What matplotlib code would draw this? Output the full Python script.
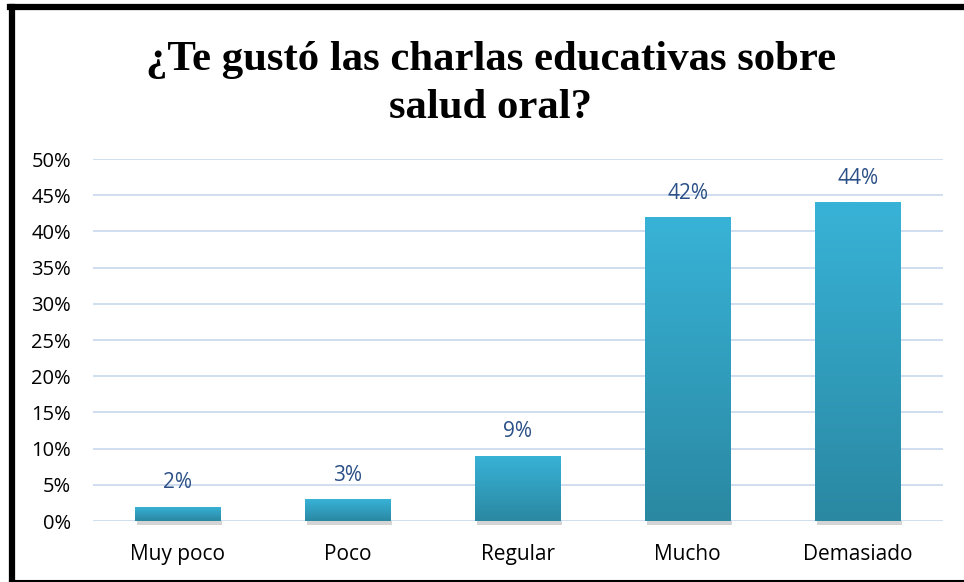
import matplotlib.pyplot as plt
import numpy as np
from matplotlib.lines import Line2D
from matplotlib.colors import LinearSegmentedColormap
from matplotlib.patches import Rectangle

# data
categories = ["Muy poco", "Poco", "Regular", "Mucho", "Demasiado"]
values = [2, 3, 9, 42, 44]
labels = ["2%", "3%", "9%", "42%", "44%"]
yticks = [0, 5, 10, 15, 20, 25, 30, 35, 40, 45, 50]

title = "¿Te gustó las charlas educativas sobre\nsalud oral?"

fig = plt.figure(figsize=(9.64, 5.82), dpi=100)
ax = fig.add_axes([0.096, 0.1048, 0.882, 0.622])

x = np.arange(len(categories))
bars = ax.bar(x, values, width=0.5, color="#33a8cc", zorder=3)

# gradient fill + soft shadow under each bar
cmap = LinearSegmentedColormap.from_list("blu", ["#2a88a2", "#38b3d7"])
grad = np.linspace(0, 1, 256).reshape(-1, 1)
for b in bars:
    x0, w, h = b.get_x(), b.get_width(), b.get_height()
    sh = Rectangle((x0 + 0.01, -0.5), w, 0.55, color="#b8b8b8", zorder=2, lw=0,
                   clip_on=False, alpha=0.6)
    ax.add_patch(sh)
    im = ax.imshow(grad, extent=(x0, x0 + w, 0, h), origin="lower", cmap=cmap,
                   aspect="auto", zorder=3.5)
    im.set_clip_path(b)

for xi, v, lab in zip(x, values, labels):
    ax.text(xi, v + 3.3, lab, ha="center", va="center", fontsize=15,
            color="#2b5087", family="Open Sans")

ax.set_xlim(-0.5, len(categories) - 0.5)
ax.set_ylim(0, 50)
ax.set_yticks(yticks)
ax.set_yticklabels([f"{t}%" for t in yticks], family="Open Sans", fontsize=14.5)
ax.set_xticks(x)
ax.set_xticklabels(categories, family="Open Sans", fontsize=15)
ax.tick_params(axis="y", length=0, pad=15.5)
ax.tick_params(axis="x", length=0, pad=16.5)
ax.grid(axis="y", color="#d0def0", lw=1.4, zorder=0)
for s in ax.spines.values():
    s.set_visible(False)

fig.text(0.509, 0.8556, title, ha="center", va="center", fontsize=30.8,
         fontweight="bold", family="Liberation Serif", linespacing=1.33)

# outer frame (left, top, bottom)
fig.add_artist(Line2D([12 / 964, 12 / 964], [1.5 / 582, 1 - 7 / 582], color="black", lw=4.5))
fig.add_artist(Line2D([10 / 964, 1.0], [1 - 7 / 582, 1 - 7 / 582], color="black", lw=4.5))
fig.add_artist(Line2D([10 / 964, 1.0], [1.5 / 582, 1.5 / 582], color="black", lw=1.5))

fig.savefig("out.png", dpi=100)
